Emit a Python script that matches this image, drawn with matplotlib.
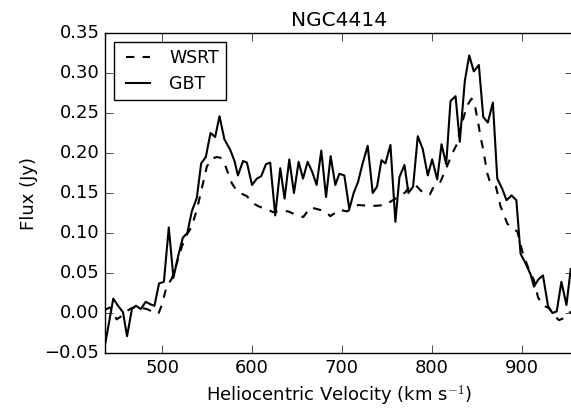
import matplotlib
matplotlib.use("Agg")
import matplotlib.pyplot as plt

# GBT spectrum (solid)
gbt_vel = [436.5, 445.7, 451.0, 456.5, 461.0, 466.6, 471.0, 476.3, 481.8, 486.8,
           491.5, 496.6, 502.0, 507.4, 512.6, 518.0, 523.0, 528.0, 533.0, 538.6,
           543.4, 548.6, 553.8, 559.0, 563.8, 569.3, 575.7, 580.5, 584.3, 590.0,
           594.3, 600.0, 605.4, 610.2, 615.5, 620.2, 625.8, 631.4, 636.2, 641.4,
           646.6, 651.8, 656.7, 661.8, 666.7, 671.8, 677.0, 682.3, 687.4, 692.6,
           697.0, 702.6, 708.2, 713.0, 717.9, 723.0, 728.6, 734.2, 739.0, 743.9,
           748.3, 753.9, 759.4, 763.9, 769.5, 773.9, 779.1, 784.3, 789.8, 795.4,
           800.3, 805.9, 810.7, 815.9, 820.7, 826.3, 831.0, 836.6, 841.5, 846.6,
           852.2, 857.1, 862.2, 867.8, 872.7, 878.3, 883.0, 888.6, 893.9, 898.6,
           904.2, 909.8, 913.5, 918.4, 923.5, 929.1, 934.0, 938.8, 944.0, 949.6,
           954.4]
gbt_flux = [-0.040, 0.018, 0.009, 0.001, -0.029, 0.006, 0.009, 0.005, 0.014, 0.011,
            0.009, 0.037, 0.039, 0.107, 0.044, 0.072, 0.094, 0.100, 0.127, 0.144,
            0.187, 0.195, 0.225, 0.220, 0.246, 0.217, 0.204, 0.190, 0.172, 0.190,
            0.188, 0.160, 0.168, 0.171, 0.186, 0.188, 0.122, 0.181, 0.143, 0.192,
            0.150, 0.189, 0.168, 0.189, 0.177, 0.160, 0.203, 0.145, 0.196, 0.160,
            0.174, 0.172, 0.130, 0.150, 0.164, 0.187, 0.209, 0.150, 0.158, 0.191,
            0.187, 0.210, 0.114, 0.170, 0.185, 0.150, 0.158, 0.221, 0.205, 0.172,
            0.192, 0.167, 0.211, 0.186, 0.265, 0.271, 0.214, 0.290, 0.322, 0.302,
            0.310, 0.245, 0.238, 0.263, 0.168, 0.155, 0.141, 0.147, 0.141, 0.074,
            0.062, 0.048, 0.033, 0.042, 0.047, 0.009, 0.000, 0.002, 0.039, 0.010,
            0.055]

# WSRT spectrum (dashed)
wsrt_vel = [436.5, 442.0, 449.5, 456.0, 460.0, 466.0, 472.0, 478.0, 483.0, 488.5,
            495.9, 499.6, 505.0, 510.8, 516.3, 521.9, 527.5, 533.0, 538.6, 544.2,
            549.7, 555.3, 560.9, 565.0, 570.0, 577.6, 583.0, 586.8, 594.3, 601.3,
            608.0, 618.0, 623.6, 633.6, 640.3, 650.3, 657.0, 664.8, 672.2, 681.5,
            687.1, 697.1, 705.7, 711.2, 718.2, 729.4, 737.2, 748.3, 755.0, 762.8,
            770.6, 775.0, 781.7, 790.3, 797.6, 802.9, 809.5, 815.1, 818.5, 822.9,
            828.2, 831.8, 835.5, 838.5, 844.1, 847.4, 852.2, 854.1, 857.1, 861.5,
            864.5, 870.8, 876.4, 880.0, 883.8, 888.6, 895.0, 900.5, 907.9, 913.5,
            917.9, 922.8, 930.2, 935.1, 941.3, 949.5, 954.3]
wsrt_flux = [0.004, 0.007, -0.008, -0.003, 0.002, 0.006, 0.008, 0.006, 0.005, 0.002,
             -0.001, 0.010, 0.033, 0.043, 0.062, 0.083, 0.098, 0.108, 0.129, 0.156,
             0.183, 0.193, 0.195, 0.194, 0.185, 0.162, 0.153, 0.150, 0.146, 0.137,
             0.133, 0.129, 0.126, 0.128, 0.127, 0.122, 0.120, 0.132, 0.130, 0.127,
             0.121, 0.129, 0.127, 0.131, 0.135, 0.134, 0.134, 0.135, 0.140, 0.145,
             0.151, 0.158, 0.160, 0.150, 0.148, 0.160, 0.164, 0.179, 0.188, 0.200,
             0.212, 0.233, 0.245, 0.258, 0.268, 0.262, 0.233, 0.220, 0.204, 0.175,
             0.164, 0.160, 0.133, 0.123, 0.112, 0.106, 0.102, 0.077, 0.054, 0.041,
             0.020, 0.010, 0.006, -0.002, -0.009, -0.005, 0.002]

xticks = [500, 600, 700, 800, 900]
yticks = [-0.05, 0.00, 0.05, 0.10, 0.15, 0.20, 0.25, 0.30, 0.35]

plt.style.use("classic")
plt.rcParams["font.family"] = "DejaVu Sans"
plt.rcParams["lines.scale_dashes"] = False

fig = plt.figure(figsize=(5.71, 4.09), dpi=100, facecolor="white")
ax = fig.add_axes([0.1839, 0.1369, 0.8196, 0.7824])

ax.plot(wsrt_vel, wsrt_flux, color="black", lw=1.5, linestyle=(0, (6, 6)), label="WSRT")
ax.plot(gbt_vel, gbt_flux, color="black", lw=1.5, linestyle="-", label="GBT")

ax.set_xlim(436.5, 956.9)
ax.set_ylim(-0.05, 0.35)
ax.set_xticks(xticks)
ax.set_yticks(yticks)
ax.set_yticklabels([f"{t:.2f}".replace("-", "\u2212") for t in yticks])
ax.tick_params(labelsize=13, direction="in", length=5.5, top=True, right=True)

ax.set_xlabel(r"Heliocentric Velocity (km s$^{-1}$)", fontsize=13)
ax.set_ylabel("Flux (Jy)", fontsize=13)
ax.set_title("NGC4414", fontsize=14.5)

leg = ax.legend(loc="upper left", fontsize=12.5, frameon=True, fancybox=False,
                handlelength=2.0, borderaxespad=0.5)
leg.get_frame().set_edgecolor("black")

fig.savefig("out.png", dpi=100, facecolor="white")
